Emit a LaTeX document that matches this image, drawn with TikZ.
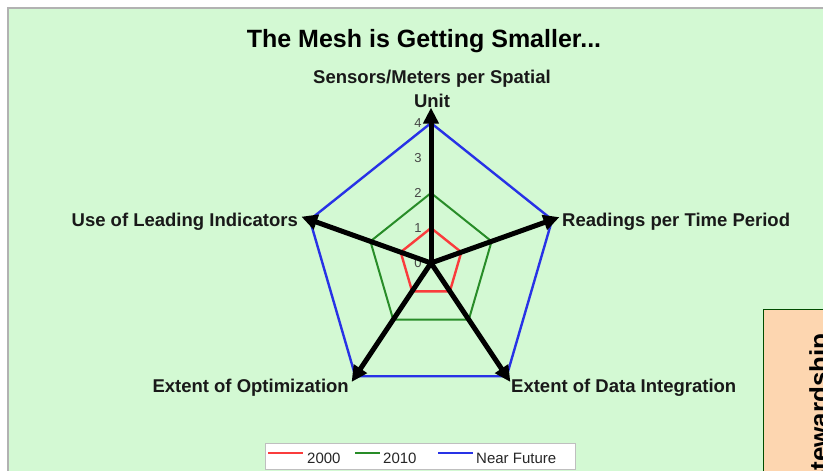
\documentclass[tikz,border=0pt]{standalone}
\usepackage{fontspec}
\setmainfont{Liberation Sans}
\usetikzlibrary{calc,arrows.meta}
\definecolor{bggreen}{RGB}{211,249,211}
\definecolor{peach}{RGB}{253,214,176}
\definecolor{redline}{RGB}{250,60,60}
\definecolor{greenline}{RGB}{40,140,40}
\definecolor{blueline}{RGB}{40,50,230}
\definecolor{ticktext}{RGB}{70,70,70}
\tikzset{
  axislabel/.style={font=\fontsize{18.5}{24}\selectfont\bfseries, inner sep=0pt, text=black!90},
  tick/.style={font=\fontsize{13}{14}\selectfont, text=ticktext, inner sep=0pt},
  axisarrow/.style={line width=5pt, -{Triangle[length=16pt,width=15pt]}, black},
  ring2000/.style={draw=redline, line width=2.4pt, line join=miter},
  ring2010/.style={draw=greenline, line width=2pt},
  ringfuture/.style={draw=blueline, line width=2.4pt},
  legtext/.style={font=\fontsize{15}{16}\selectfont, inner sep=0pt, text=black!85},
}
\begin{document}
\begin{tikzpicture}[x=1pt,y=-1pt]
\useasboundingbox (0,0) rectangle (823,471);
\fill[white] (0,0) rectangle (823,471);
\fill[bggreen] (8,8) rectangle (830,480);
\draw[gray!60, line width=1.2pt] (8,480) -- (8,8) -- (830,8);

% title
\node[font=\fontsize{25}{28}\selectfont\bfseries, anchor=base, inner sep=0pt] (title) at (424,47) {The Mesh is Getting Smaller...};

% axes geometry
\coordinate (C) at (431,263);
\coordinate (a1) at ($(C)+4*(0,-35)$);
\coordinate (a2) at ($(C)+4*(30.29,-10.82)$);
\coordinate (a3) at ($(C)+4*(18.9,28.32)$);
\coordinate (a4) at ($(C)+4*(-18.9,28.32)$);
\coordinate (a5) at ($(C)+4*(-30.29,-10.82)$);

% polygons
\draw[ringfuture] (a1) -- (a2) -- (a3) -- (a4) -- (a5) -- cycle;
\draw[ring2010] ($(C)!0.5!(a1)$) -- ($(C)!0.5!(a2)$) -- ($(C)!0.5!(a3)$) -- ($(C)!0.5!(a4)$) -- ($(C)!0.5!(a5)$) -- cycle;
\draw[ring2000] ($(C)!0.25!(a1)$) -- ($(C)!0.25!(a2)$) -- ($(C)!0.25!(a3)$) -- ($(C)!0.25!(a4)$) -- ($(C)!0.25!(a5)$) -- cycle;

% tick labels
\foreach \v in {0,1,2,3,4}{
  \node[tick] (t\v) at (418,263-35*\v) {\v};
}

% arrow tips
\coordinate (e1) at ($(C)!1.11!(a1)$);
\coordinate (e2) at ($(C)!1.06!(a2)$);
\coordinate (e3) at ($(C)!1.05!(a3)$);
\coordinate (e4) at ($(C)!1.05!(a4)$);
\coordinate (e5) at ($(C)!1.07!(a5)$);
\foreach \i in {1,...,5}{
  \draw[axisarrow] (C) -- (e\i);
}

% axis labels
\node[axislabel, anchor=base, align=center] (l1) at (432,107) {Sensors/Meters per Spatial\\Unit};
\node[axislabel, anchor=base west] (l2) at (562,226) {Readings per Time Period};
\node[axislabel, anchor=base west] (l3) at (511,392) {Extent of Data Integration};
\node[axislabel, anchor=base east] (l4) at (349,392) {Extent of Optimization};
\node[axislabel, anchor=base east] (l5) at (298,226) {Use of Leading Indicators};

% legend
\draw[fill=white, draw=gray!50, line width=0.8pt] (265,443) rectangle (575,469);
\coordinate (r0) at (268,452.5); \coordinate (r1) at (303,452.5);
\coordinate (g0) at (355,452.5); \coordinate (g1) at (380,452.5);
\coordinate (b0) at (438,452.5); \coordinate (b1) at (473,452.5);
\draw[draw=redline, line width=2pt] (r0) -- (r1);
\draw[draw=greenline, line width=2pt] (g0) -- (g1);
\draw[draw=blueline, line width=2pt] (b0) -- (b1);
\node[legtext, anchor=base west] (lg1) at (307,463) {2000};
\node[legtext, anchor=base west] (lg2) at (383,463) {2010};
\node[legtext, anchor=base west] (lg3) at (476,463) {Near Future};

% side box
\begin{scope}
\clip (0,0) rectangle (823,471);
\draw[fill=peach, draw=green!30!black, line width=1pt] (763,309) rectangle (840,490);
\node[font=\fontsize{26}{28}\selectfont\bfseries, rotate=90, anchor=base east, inner sep=0pt] (stew) at (828,333) {Stewardship};
\end{scope}
\end{tikzpicture}
\end{document}
